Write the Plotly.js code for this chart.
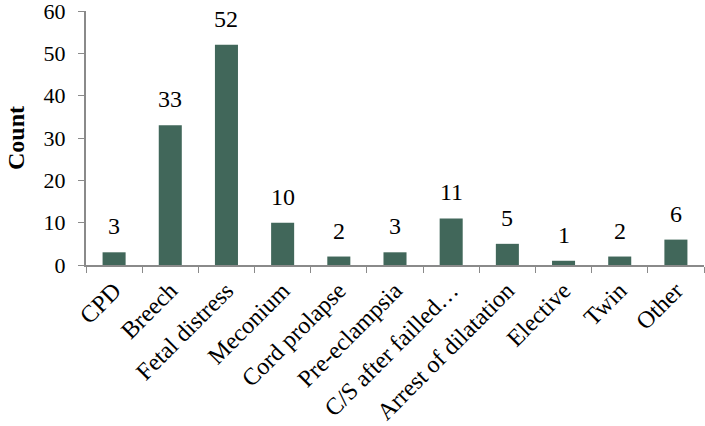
<!DOCTYPE html>
<html>
<head>
<meta charset="utf-8">
<script src="https://cdn.plot.ly/plotly-3.0.1.min.js"></script>
<style>
  html, body { margin: 0; padding: 0; background: #fff; }
  #chart { width: 705px; height: 426px; }
</style>
</head>
<body>
<div id="chart"></div>
<script>
var reasons = ["CPD", "Breech", "Fetal distress", "Meconium", "Cord prolapse", "Pre-eclampsia",
  "C/S after failled…", "Arrest of dilatation", "Elective", "Twin", "Other"];
var counts = [3, 33, 52, 10, 2, 3, 11, 5, 1, 2, 6];
var yTicks = [0, 10, 20, 30, 40, 50, 60];

var serif = '"Liberation Serif", "Times New Roman", serif';

var bars = {
  x: reasons,
  y: counts,
  type: 'bar',
  marker: { color: '#41675a' },
  width: 0.41,
  hoverinfo: 'x+y'
};

// value labels above each bar
var labels = reasons.map(function (r, i) {
  return {
    x: r, y: counts[i],
    text: String(counts[i]),
    showarrow: false,
    yanchor: 'bottom',
    yshift: 11,
    font: { family: serif, size: 24, color: '#000' }
  };
});

var layout = {
  width: 705,
  height: 426,
  margin: { l: 86, r: 1, t: 11, b: 161 },
  paper_bgcolor: '#fff',
  plot_bgcolor: '#fff',
  font: { family: serif, color: '#000' },
  showlegend: false,
  xaxis: {
    type: 'category',
    tickangle: -45,
    tickson: 'boundaries',
    ticks: 'outside',
    ticklen: 6,
    tickcolor: '#8a8a8a',
    showline: true,
    linecolor: '#8a8a8a',
    linewidth: 2,
    showgrid: false,
    tickfont: { family: serif, size: 24, color: '#000' },
    fixedrange: true
  },
  yaxis: {
    range: [0, 60],
    tickvals: yTicks,
    ticks: 'outside',
    ticklen: 6,
    tickcolor: '#8a8a8a',
    showline: true,
    linecolor: '#8a8a8a',
    linewidth: 2,
    showgrid: false,
    zeroline: false,
    ticklabeloverflow: 'allow',
    ticklabelstandoff: 8,
    tickfont: { family: serif, size: 22, color: '#000' },
    title: { text: '<b>Count</b>', font: { family: serif, size: 24, color: '#000' }, standoff: 12 },
    fixedrange: true
  },
  annotations: labels
};

Plotly.newPlot('chart', [bars], layout, { displayModeBar: false, staticPlot: true });
</script>
</body>
</html>
